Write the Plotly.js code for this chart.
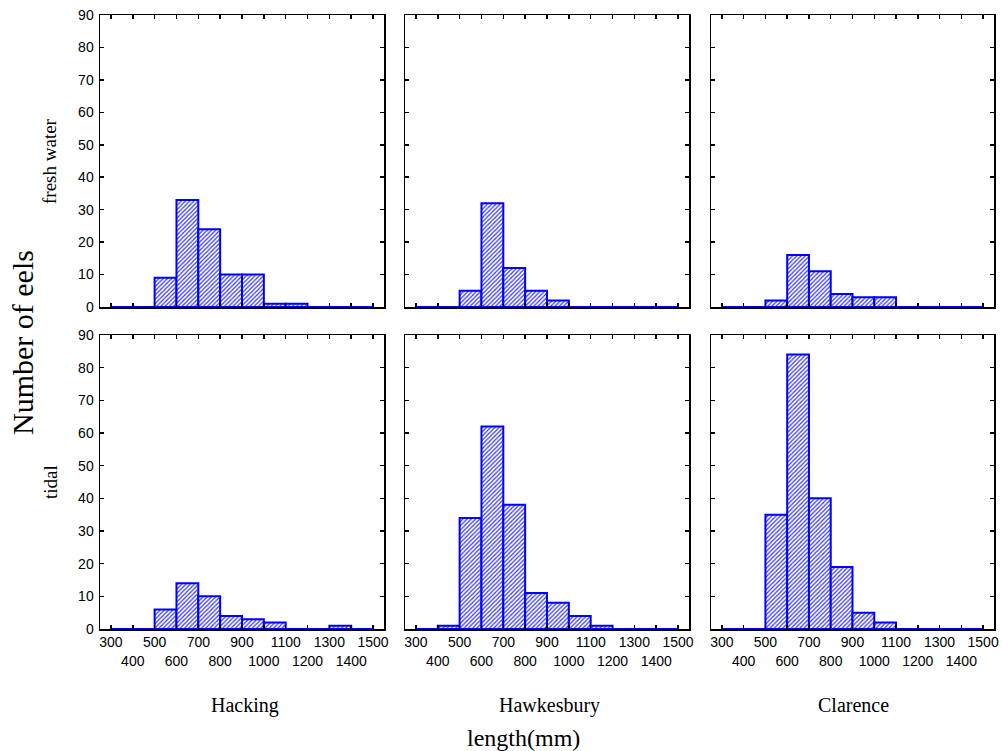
<!DOCTYPE html>
<html>
<head>
<meta charset="utf-8">
<script src="https://cdn.plot.ly/plotly-3.0.1.min.js"></script>
<style>html,body{margin:0;padding:0;background:#fff;}#chart{width:1002px;height:751px;}</style>
</head>
<body>
<div id="chart"></div>
<script>
// ---- data ----
const binStart = [300,400,500,600,700,800,900,1000,1100,1200,1300,1400];
const binWidth = 100;
const rivers = ["Hacking","Hawkesbury","Clarence"];
const habitats = ["fresh water","tidal"];
const hackingFresh    = [0,0,9,33,24,10,10,1,1,0,0,0];
const hawkesburyFresh = [0,0,5,32,12,5,2,0,0,0,0,0];
const clarenceFresh   = [0,0,2,16,11,4,3,3,0,0,0,0];
const hackingTidal    = [0,0,6,14,10,4,3,2,0,0,1,0];
const hawkesburyTidal = [0,1,34,62,38,11,8,4,1,0,0,0];
const clarenceTidal   = [0,0,35,84,40,19,5,2,0,0,0,0];
const xTickVals = [300,400,500,600,700,800,900,1000,1100,1200,1300,1400,1500];
const yTickVals = [0,10,20,30,40,50,60,70,80,90];

const series = [
  [hackingFresh, hawkesburyFresh, clarenceFresh],
  [hackingTidal, hawkesburyTidal, clarenceTidal]
];

// ---- layout geometry ----
const W = 1002, H = 751;
const colPx = [[100,384],[405,689],[711,994]];
const rowPx = [[15,307],[335,629]];
const xTickText = xTickVals.map((v,i)=> i%2===0 ? String(v) : "<br>"+v);

const traces = [];
const layout = {
  width: W, height: H,
  margin:{l:0,r:0,t:0,b:0},
  paper_bgcolor:"#fff", plot_bgcolor:"#fff",
  showlegend:false,
  bargap:0,
  font:{family:"Liberation Sans, Arial, sans-serif", size:14, color:"#000"},
  annotations:[]
};

let k = 0;
for (let r=0;r<2;r++){
  for (let c=0;c<3;c++){
    k++;
    const xa = k===1 ? "x" : "x"+k;
    const ya = k===1 ? "y" : "y"+k;
    traces.push({
      type:"bar",
      x: binStart,
      y: series[r][c],
      width: binWidth,
      offset: 0,
      xaxis: xa, yaxis: ya,
      marker:{
        color:"#ffffff",
        line:{color:"#0000ff", width:2},
        pattern:{shape:"/", fgcolor:"#3333ff", bgcolor:"#ffffff", size:3, solidity:0.4}
      },
      hoverinfo:"skip"
    });
    const xkey = k===1 ? "xaxis" : "xaxis"+k;
    const ykey = k===1 ? "yaxis" : "yaxis"+k;
    layout[xkey] = {
      domain:[colPx[c][0]/W, colPx[c][1]/W],
      anchor: ya,
      range:[250,1550],
      tickmode:"array", tickvals:xTickVals, ticktext:xTickText,
      tickangle:0,
      ticks:"inside", ticklen:4, tickwidth:1.5, tickcolor:"#000",
      showline:true, linecolor:"#000", linewidth:1.5, mirror:"allticks",
      showgrid:false, zeroline:false,
      showticklabels: r===1,
      tickfont:{family:"Liberation Sans, Arial, sans-serif", size:14, color:"#000"},
      fixedrange:true
    };
    layout[ykey] = {
      domain:[1-rowPx[r][1]/H, 1-rowPx[r][0]/H],
      anchor: xa,
      range:[0,90],
      tickmode:"array", tickvals:yTickVals,
      ticks:"inside", ticklen:4, tickwidth:1.5, tickcolor:"#000",
      showline:true, linecolor:"#000", linewidth:1.5, mirror:"allticks",
      showgrid:false, zeroline:false,
      showticklabels: c===0,
      tickfont:{family:"Liberation Sans, Arial, sans-serif", size:14, color:"#000"},
      ticklabelstandoff:2,
      fixedrange:true
    };
  }
}

const serif = "Liberation Serif, Times New Roman, serif";
// row labels
habitats.forEach((h,r)=>{
  const yc = r===0 ? 161 : 482;
  layout.annotations.push({
    text:h, xref:"paper", yref:"paper", x:50/W, y:1-yc/H,
    xanchor:"center", yanchor:"middle", textangle:-90, showarrow:false,
    font:{family:serif, size:19, color:"#000"}
  });
});
// column labels
const colCenters = [245,549,853];
rivers.forEach((name,c)=>{
  layout.annotations.push({
    text:name, xref:"paper", yref:"paper", x:colCenters[c]/W, y:1-705/H,
    xanchor:"center", yanchor:"middle", showarrow:false,
    font:{family:serif, size:20, color:"#000"}
  });
});
// overall axis titles
layout.annotations.push({
  text:"Number of eels", xref:"paper", yref:"paper", x:22/W, y:1-343/H,
  xanchor:"center", yanchor:"middle", textangle:-90, showarrow:false,
  font:{family:serif, size:30, color:"#000"}
});
layout.annotations.push({
  text:"length(mm)", xref:"paper", yref:"paper", x:523/W, y:1-738/H,
  xanchor:"center", yanchor:"middle", showarrow:false,
  font:{family:serif, size:24, color:"#000"}
});

Plotly.newPlot("chart", traces, layout, {staticPlot:true, displayModeBar:false});
</script>
</body>
</html>
